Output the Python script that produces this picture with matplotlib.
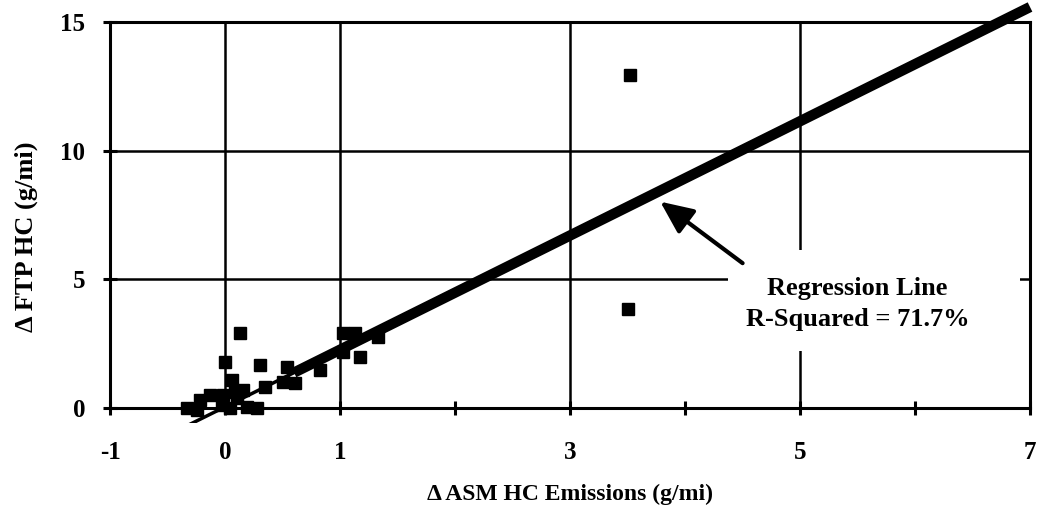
import matplotlib
matplotlib.use("Agg")
import matplotlib.pyplot as plt
from matplotlib.patches import Rectangle
import numpy as np

plt.rcParams['font.family'] = ['Liberation Serif', 'DejaVu Serif']
plt.rcParams['font.weight'] = 'bold'

# measured points (delta ASM HC vs delta FTP HC)
asm_hc = [0.13, 0.00, 0.06, 0.30, 0.54, 0.61, 0.50, 0.35, 0.83, 1.03, 1.13,
          1.03, 1.17, 1.33, 0.28, 0.19, 0.10, 0.04, -0.03, -0.02, -0.13,
          -0.22, -0.33, -0.24, 0.16, 0.09, 3.52, 3.50]
ftp_hc = [2.91, 1.79, 1.09, 1.67, 1.60, 0.97, 1.00, 0.82, 1.48, 2.90, 2.90,
          2.18, 1.98, 2.76, 0.00, 0.05, 0.40, 0.00, 0.10, 0.50, 0.50,
          0.30, 0.00, -0.10, 0.70, 0.60, 12.94, 3.85]

# regression fit
slope = 2.22
intercept = 0.04
r_squared = 71.7

major_x = [-1, 0, 1, 3, 5, 7]
minor_x = [2, 4, 6]
major_y = [0, 5, 10, 15]

fig = plt.figure(figsize=(10.42, 5.22), dpi=100)
ax = fig.add_axes([0.1056, 0.189, 0.8829, 0.769])

ax.set_xlim(-1, 7)
ax.set_ylim(-0.6, 15)

# grid
for gx in major_x[1:-1]:
    ax.plot([gx, gx], [0, 15], color='black', lw=1.8, zorder=1)
for gy in major_y[1:-1]:
    ax.plot([-1, 7], [gy, gy], color='black', lw=1.8, zorder=1)

# white box behind the annotation
ax.add_patch(Rectangle((4.37, 2.2), 2.54, 3.94, facecolor='white',
                       edgecolor='none', zorder=2))

# regression line
xs_lo = np.array([-0.4, 0.6])
ax.plot(xs_lo, slope * xs_lo + intercept, color='black', lw=2.5, zorder=3)
xs = np.array([0.6, 7.0])
ax.plot(xs, slope * xs + intercept, color='black', lw=7.5, zorder=3,
        solid_capstyle='butt', clip_on=False)

ax.plot(asm_hc, ftp_hc, 's', color='black', markersize=8.5, zorder=4)

ax.annotate('', xy=(3.765, 8.08), xytext=(4.52, 5.56),
            arrowprops=dict(arrowstyle='-|>,head_length=2.0,head_width=0.9',
                            color='black', lw=3), zorder=5)
ax.text(5.50, 4.05, 'Regression Line\nR-Squared = %.1f%%' % r_squared,
        ha='center', va='center', fontsize=19, fontweight='bold',
        linespacing=1.45, zorder=5)

# spines
for s in ['left', 'right', 'top']:
    ax.spines[s].set_linewidth(2.2)
ax.spines['bottom'].set_position(('data', 0))
ax.spines['bottom'].set_linewidth(2.2)
ax.spines['left'].set_bounds(0, 15)
ax.spines['right'].set_bounds(0, 15)

ax.set_xticks(major_x)
ax.set_xticks(minor_x, minor=True)
ax.set_xticklabels([str(v) for v in major_x])
ax.set_yticks(major_y)
ax.set_yticklabels([str(v) for v in major_y])
ax.tick_params(axis='x', which='both', direction='inout', length=10,
               width=2.2, pad=19, labelsize=18)
ax.tick_params(axis='y', direction='inout', length=10, width=2.2, pad=13,
               labelsize=18)
for t in ax.get_xticklabels() + ax.get_yticklabels():
    t.set_fontweight('bold')

ax.set_xlabel('Δ ASM HC Emissions (g/mi)', fontsize=17, fontweight='bold',
              labelpad=14)
ax.set_ylabel('Δ FTP HC (g/mi)', fontsize=19, fontweight='bold')
ax.yaxis.set_label_coords(-0.078, 0.465)

fig.savefig('out.png', dpi=100)
